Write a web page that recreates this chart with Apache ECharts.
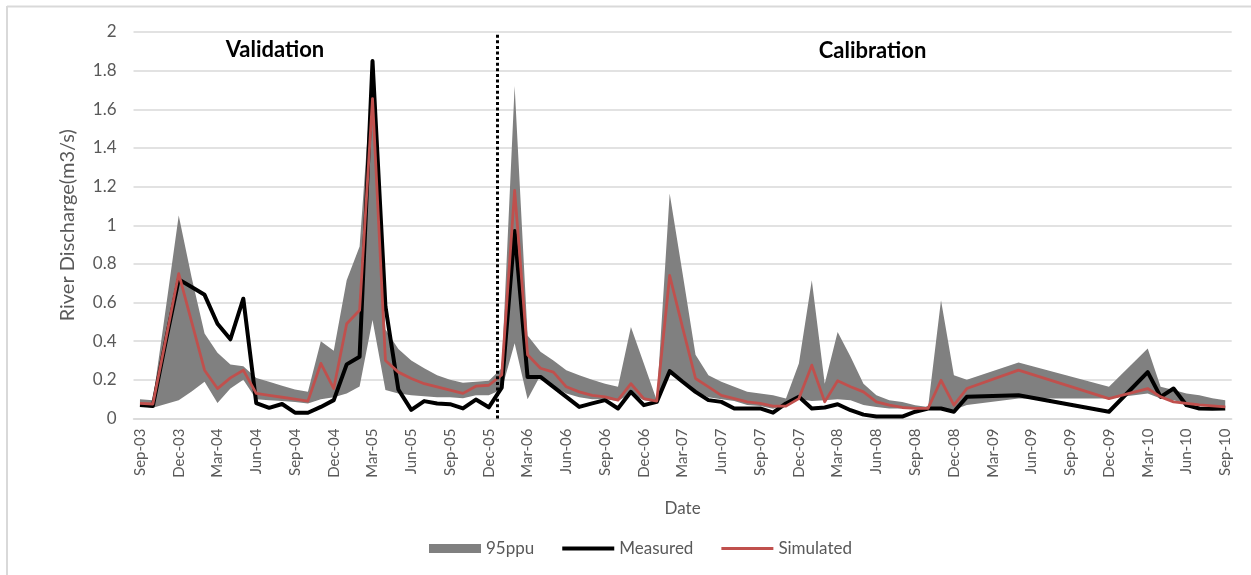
<!DOCTYPE html>
<html>
<head>
<meta charset="utf-8">
<script src="https://cdn.jsdelivr.net/npm/echarts@6/dist/echarts.min.js"></script>
<style>
html,body{margin:0;padding:0;background:#fff;}
#chart{width:1251px;height:575px;}
</style>
</head>
<body>
<div id="chart"></div>
<script>
// ---- data (monthly, Sep-03 .. Sep-10; null = no point that month) ----
const monthNames = ['Jan','Feb','Mar','Apr','May','Jun','Jul','Aug','Sep','Oct','Nov','Dec'];
const startYear = 2003, startMonth = 8, monthCount = 85;
const categories = [];
for (let i = 0; i < monthCount; i++) {
  const mi = (startMonth + i) % 12;
  const yr = startYear + Math.floor((startMonth + i) / 12);
  categories.push(monthNames[mi] + '-' + String(yr % 100).padStart(2, '0'));
}

const measured = [0.07,0.065,0.40,0.72,0.68,0.64,0.49,0.41,0.62,0.08,
  0.055,0.075,0.03,0.03,0.06,0.095,0.28,0.32,1.85,0.58,
  0.15,0.045,0.09,0.078,0.074,0.052,0.098,0.058,0.16,0.97,
  0.215,0.215,0.164,0.112,0.06,0.078,0.095,0.052,0.138,0.069,
  0.086,0.245,0.19,0.138,0.095,0.086,0.052,0.052,0.052,0.03,
  0.078,0.112,0.052,0.057,0.074,0.043,0.02,0.01,0.01,0.01,
  0.035,0.052,0.052,0.035,0.112,null,null,null,0.12,null,
  null,null,null,null,null,0.035,null,null,0.24,0.112,
  0.155,0.069,0.052,0.05,0.052];

const simulated = [0.078,0.075,0.41,0.75,0.50,0.25,0.155,0.21,0.25,0.13,
  0.12,0.11,0.10,0.09,0.285,0.155,0.49,0.56,1.655,0.30,
  0.24,0.207,0.18,0.164,0.147,0.13,0.167,0.172,0.225,1.18,
  0.33,0.26,0.24,0.164,0.138,0.12,0.112,0.095,0.18,0.103,
  0.09,0.74,0.47,0.207,0.164,0.12,0.103,0.086,0.078,0.064,
  0.064,0.103,0.276,0.086,0.195,0.164,0.138,0.086,0.069,0.057,
  0.052,0.052,0.198,0.069,0.155,null,null,null,0.25,null,
  null,null,null,null,null,0.103,null,null,0.155,0.112,
  0.086,0.078,0.07,0.065,0.06];

const ppuUpper = [0.10,0.095,0.57,1.05,0.73,0.44,0.34,0.28,0.27,0.21,
  0.19,0.17,0.15,0.138,0.40,0.35,0.715,0.89,1.82,0.46,
  0.36,0.30,0.26,0.224,0.20,0.185,0.19,0.195,0.26,1.72,
  0.43,0.345,0.30,0.25,0.224,0.2,0.18,0.164,0.474,0.285,
  0.095,1.164,0.75,0.33,0.224,0.19,0.164,0.138,0.13,0.12,
  0.103,0.285,0.715,0.18,0.448,0.32,0.18,0.12,0.095,0.086,
  0.069,0.06,0.612,0.224,0.2,null,null,null,0.29,null,
  null,null,null,null,null,0.164,null,null,0.362,0.164,
  0.147,0.13,0.12,0.105,0.095];

const ppuLower = [0.065,0.055,0.075,0.095,0.14,0.19,0.08,0.155,0.20,0.10,
  0.095,0.09,0.085,0.078,0.10,0.11,0.13,0.165,0.51,0.147,
  0.13,0.12,0.115,0.11,0.11,0.105,0.12,0.12,0.15,0.39,
  0.10,0.224,0.17,0.13,0.11,0.10,0.10,0.09,0.13,0.095,
  0.085,0.23,0.19,0.14,0.11,0.10,0.09,0.07,0.065,0.05,
  0.07,0.10,0.09,0.095,0.10,0.095,0.07,0.06,0.052,0.052,
  0.05,0.05,0.045,0.045,0.07,null,null,null,0.103,null,
  null,null,null,null,null,0.103,null,null,0.13,0.103,
  0.095,0.078,0.07,0.065,0.06];

const yTicks = { min: 0, max: 2, interval: 0.2 };
const splitMonth = 27.67;                 // Validation / Calibration boundary (month index)
const periodLabels = [
  { text: 'Validation', month: 10.45, value: 1.905 },
  { text: 'Calibration', month: 56.7, value: 1.90 }
];

const FONT = 'Lato';
const GREY_TXT = '#595959';
const BAND = '#808080';
const chart = echarts.init(document.getElementById('chart'), null, { renderer: 'canvas' });

function renderBand(params, api) {
  if (params.dataIndex !== 0) return null;
  const top = [], bottom = [];
  for (let i = 0; i < ppuUpper.length; i++) {
    if (ppuUpper[i] == null || ppuLower[i] == null) continue;
    top.push(api.coord([i, ppuUpper[i]]));
    bottom.unshift(api.coord([i, ppuLower[i]]));
  }
  return { type: 'polygon', shape: { points: top.concat(bottom) }, style: { fill: BAND } };
}

chart.setOption({
  animation: false,
  backgroundColor: '#fff',
  textStyle: { fontFamily: FONT },
  grid: { left: 133.5, right: 19.3, top: 32, bottom: 156.5, containLabel: false },
  graphic: [
    { type: 'line', shape: { x1: 7, y1: 6.5, x2: 1251, y2: 6.5 }, style: { stroke: '#d9d9d9', lineWidth: 2 }, silent: true },
    { type: 'line', shape: { x1: 7, y1: 6, x2: 7, y2: 575 }, style: { stroke: '#d9d9d9', lineWidth: 2 }, silent: true }
  ],
  legend: {
    left: 424, top: 535,
    itemWidth: 52, itemHeight: 9, itemGap: 28,
    textStyle: { color: GREY_TXT, fontSize: 17, fontFamily: FONT },
    data: [
      { name: '95ppu', icon: 'rect', itemStyle: { color: BAND } },
      { name: 'Measured', icon: 'path://M0,0h52v4h-52z', itemStyle: { color: '#000', borderWidth: 0 } },
      { name: 'Simulated', icon: 'path://M0,0h52v3h-52z', itemStyle: { color: '#C0504D', borderWidth: 0 } }
    ]
  },
  xAxis: [{
    type: 'category',
    data: categories,
    boundaryGap: true,
    name: 'Date',
    nameLocation: 'middle',
    nameGap: 82,
    nameTextStyle: { color: GREY_TXT, fontSize: 17, fontFamily: FONT },
    axisLine: { lineStyle: { color: '#d9d9d9', width: 1.5 } },
    axisTick: { interval: 2, length: 5, lineStyle: { color: '#d9d9d9', width: 1.5 } },
    axisLabel: { interval: 2, rotate: 90, margin: 10, color: GREY_TXT, fontSize: 15, fontFamily: FONT },
    splitLine: { show: false }
  }, {
    type: 'value', min: -0.5, max: 84.5, show: false
  }],
  yAxis: {
    type: 'value',
    min: yTicks.min, max: yTicks.max, interval: yTicks.interval,
    name: 'River Discharge(m3/s)',
    nameLocation: 'middle',
    nameGap: 56,
    nameTextStyle: { color: GREY_TXT, fontSize: 20, fontFamily: FONT },
    axisLine: { show: false },
    axisTick: { show: false },
    axisLabel: { color: GREY_TXT, fontSize: 17, margin: 17, fontFamily: FONT },
    splitLine: { lineStyle: { color: '#d9d9d9', width: 1.5 } }
  },
  series: [
    {
      name: '95ppu', type: 'custom',
      data: ppuUpper.map((u, i) => [i, u, ppuLower[i]]),
      encode: { x: 0, y: [1, 2] },
      renderItem: renderBand,
      itemStyle: { color: BAND },
      silent: true, z: 2
    },
    {
      name: 'Measured', type: 'line', data: measured,
      symbol: 'none', connectNulls: true,
      lineStyle: { color: '#000000', width: 4, join: 'round' },
      itemStyle: { color: '#000000' }, z: 3
    },
    {
      name: 'Simulated', type: 'line', data: simulated,
      symbol: 'none', connectNulls: true,
      lineStyle: { color: '#C0504D', width: 2.8, join: 'round' },
      itemStyle: { color: '#C0504D' }, z: 4
    },
    {
      name: 'split', type: 'line', xAxisIndex: 1, data: [],
      symbol: 'none', silent: true, z: 5,
      markLine: {
        silent: true, symbol: 'none', animation: false,
        label: { show: false },
        lineStyle: { color: '#000', width: 3, type: [3, 2.6] },
        data: [{ xAxis: splitMonth }]
      },
      markPoint: {
        silent: true, symbol: 'rect', symbolSize: 1,
        itemStyle: { color: 'rgba(0,0,0,0)' },
        label: { show: true, position: 'inside', color: '#000', fontSize: 22, fontWeight: 'bold', fontFamily: FONT,
          formatter: p => p.name },
        data: periodLabels.map(p => ({ name: p.text, coord: [p.month, p.value] }))
      }
    }
  ]
});
</script>
</body>
</html>
